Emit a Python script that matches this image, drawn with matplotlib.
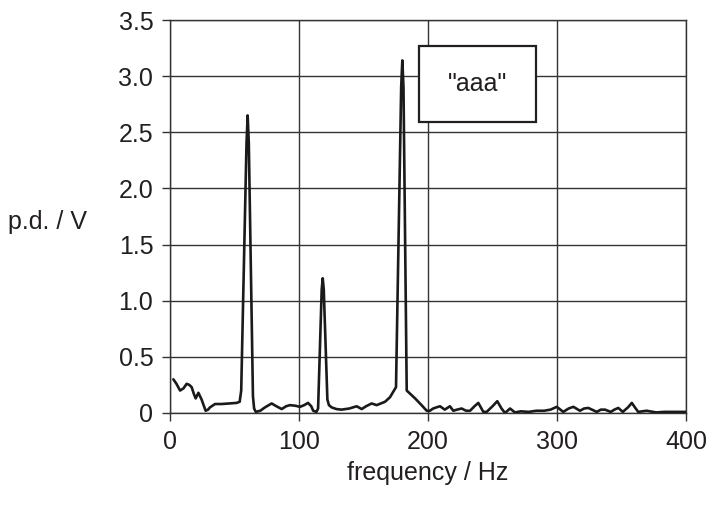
import matplotlib
matplotlib.use("Agg")
import matplotlib.pyplot as plt
from matplotlib.patches import Rectangle

plt.rcParams['font.family'] = ['Liberation Sans', 'DejaVu Sans']

# frequency (Hz) and p.d. (V)
freq = [2.6, 5.0, 7.8, 10.5, 12.9, 15.0, 16.8, 18.5, 19.9, 22.0, 24.5, 27.6, 29.5,
        31.0, 34.9, 40.0, 46.0, 51.7, 54.0, 55.2, 59.3, 60.2, 61.1, 64.3, 65.2,
        66.5, 70.0, 73.6, 78.8, 82.5, 86.6, 90.0, 93.0, 97.0, 100.8, 104.0,
        107.0, 109.5, 111.0, 113.5, 114.8, 117.6, 118.4, 119.2, 122.0, 123.2,
        125.3, 129.0, 133.0, 139.0, 144.7, 148.6, 152.0, 156.3, 160.2, 166.7,
        170.5, 173.1, 175.2, 179.2, 180.1, 181.0, 183.5, 190.0, 195.0, 199.0,
        201.5, 204.0, 206.5, 209.3, 213.0, 217.0, 219.6, 222.5, 226.1, 229.5,
        232.6, 236.0, 239.0, 242.9, 245.5, 250.0, 253.7, 257.0, 259.7, 263.6,
        267.4, 272.0, 278.0, 284.0, 290.0, 295.0, 299.8, 304.9, 309.0, 312.7,
        317.8, 321.0, 324.3, 330.8, 334.0, 337.2, 341.6, 344.5, 347.5, 351.0,
        355.0, 358.0, 361.0, 363.0, 369.5, 377.0, 383.0, 390.0, 400.0]
pd_v = [0.30, 0.26, 0.20, 0.22, 0.26, 0.25, 0.23, 0.17, 0.13, 0.18, 0.12, 0.02, 0.03,
        0.05, 0.08, 0.08, 0.085, 0.09, 0.10, 0.20, 2.40, 2.65, 2.40, 0.15, 0.04,
        0.01, 0.02, 0.05, 0.085, 0.06, 0.035, 0.06, 0.07, 0.065, 0.055, 0.07,
        0.09, 0.06, 0.02, 0.01, 0.04, 1.10, 1.20, 1.10, 0.12, 0.07,
        0.05, 0.035, 0.03, 0.04, 0.06, 0.035, 0.06, 0.085, 0.07, 0.10,
        0.14, 0.19, 0.23, 2.90, 3.14, 2.90, 0.20, 0.13, 0.07, 0.02,
        0.02, 0.04, 0.05, 0.06, 0.03, 0.06, 0.02, 0.03, 0.04, 0.02,
        0.02, 0.06, 0.09, 0.01, 0.01, 0.06, 0.105, 0.04, 0.0, 0.04,
        0.005, 0.015, 0.01, 0.02, 0.02, 0.03, 0.055, 0.01, 0.04, 0.055,
        0.02, 0.04, 0.045, 0.01, 0.03, 0.03, 0.01, 0.03, 0.045, 0.01,
        0.05, 0.09, 0.04, 0.01, 0.02, 0.005, 0.01, 0.01, 0.01]

xticks = [0, 100, 200, 300, 400]
yticks = [0, 0.5, 1.0, 1.5, 2.0, 2.5, 3.0, 3.5]
ytick_labels = ['0', '0.5', '1.0', '1.5', '2.0', '2.5', '3.0', '3.5']
legend_text = '"aaa"'

FS = 18
fig = plt.figure(figsize=(7.14, 5.07), dpi=100)
ax = fig.add_axes([170/714, 1 - 413/507, (686 - 170)/714, (413 - 20)/507])

ax.plot(freq, pd_v, color='#1a1a1a', lw=1.9, solid_joinstyle='round',
        solid_capstyle='round', zorder=3)

ax.set_xlim(0, 400)
ax.set_ylim(0, 3.5)
ax.set_xticks(xticks)
ax.set_xticklabels([str(t) for t in xticks])
ax.set_yticks(yticks)
ax.set_yticklabels(ytick_labels)
ax.tick_params(axis='both', direction='out', length=6, width=1.0, color='#333333',
               labelsize=FS, labelcolor='#231f20')
ax.tick_params(axis='x', pad=6)
ax.tick_params(axis='y', pad=6)
ax.grid(True, color='#333333', lw=1.0, zorder=1)
for s in ax.spines.values():
    s.set_color('#333333')
    s.set_linewidth(1.0)

ax.set_xlabel('frequency / Hz', fontsize=FS, color='#231f20', labelpad=5)
fig.text(8/714, 1 - 222/507, 'p.d. / V', fontsize=FS, color='#231f20',
         ha='left', va='center')

# legend-like box
ax.add_patch(Rectangle((249/516, 1 - 102/393), 117/516, 76/393,
                       transform=ax.transAxes, facecolor='white',
                       edgecolor='#231f20', lw=1.6, zorder=5))
ax.text((249 + 58.5)/516, 1 - 64/393, legend_text, transform=ax.transAxes,
        ha='center', va='center', fontsize=FS, color='#231f20', zorder=6)

fig.savefig('out.png', dpi=100)
